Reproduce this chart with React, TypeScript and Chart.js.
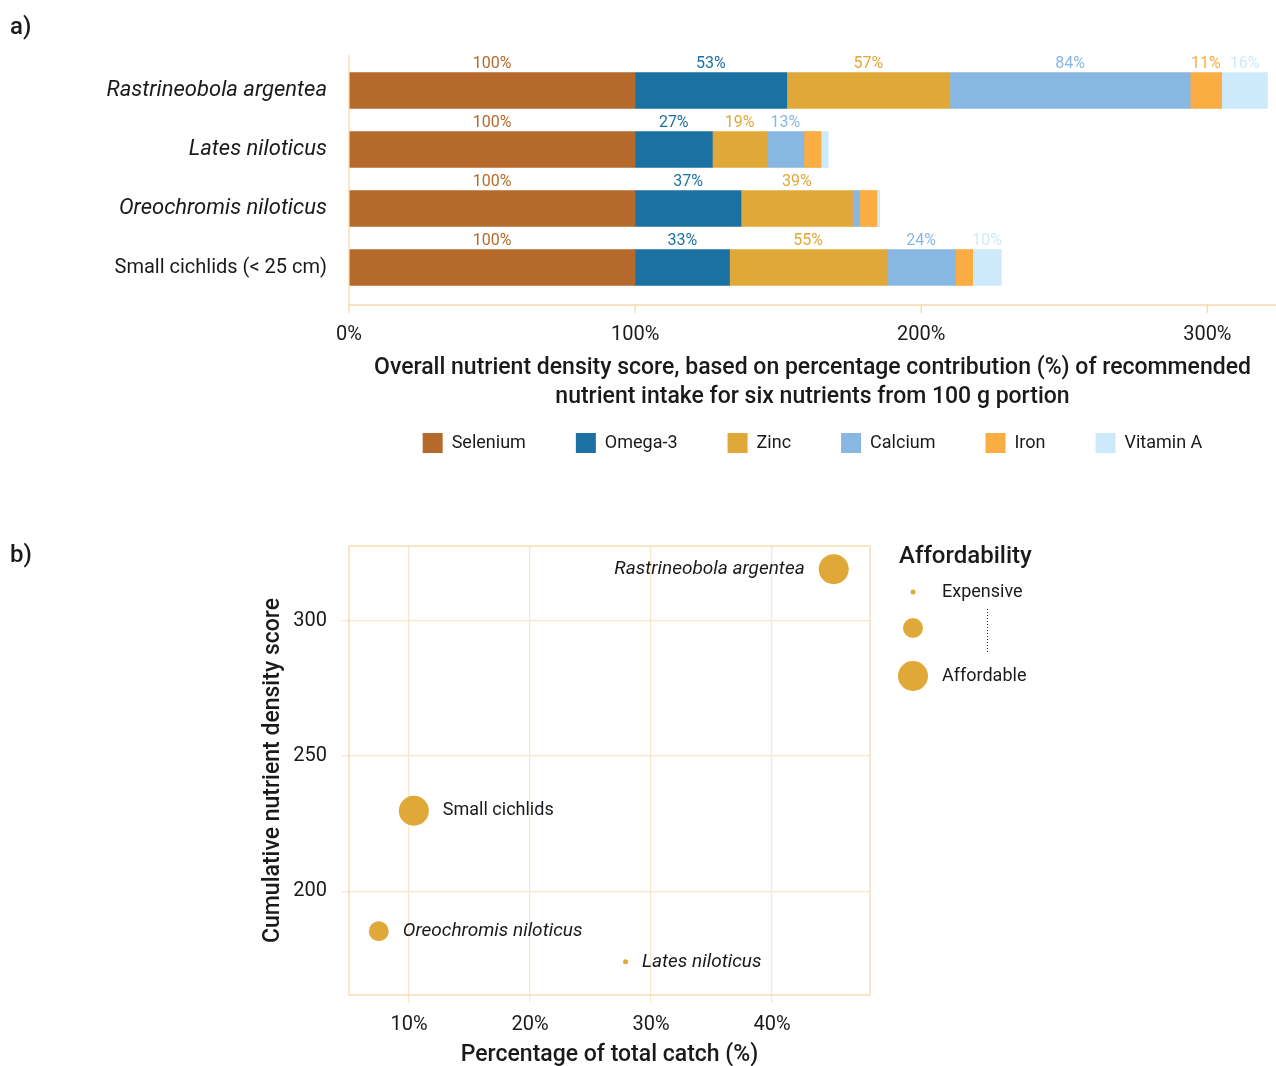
import React, { useEffect, useRef } from 'react';
import { Chart, registerables } from 'chart.js';

Chart.register(...registerables);

// ---------- Panel a data ----------
const SPECIES = ['Rastrineobola argentea', 'Lates niloticus', 'Oreochromis niloticus', 'Small cichlids (< 25 cm)'];
const SPECIES_ITALIC = [true, true, true, false];
const NUTRIENTS = ['Selenium', 'Omega-3', 'Zinc', 'Calcium', 'Iron', 'Vitamin A'];
const SELENIUM = [100, 100, 100, 100];
const OMEGA3 = [53, 27, 37, 33];
const ZINC = [57, 19, 39, 55];
const CALCIUM = [84, 13, 2.5, 24];
const IRON = [11, 6, 6, 6];
const VITAMIN_A = [16, 2.5, 1, 10];
const X_TICKS_A = [0, 100, 200, 300];
const X_TITLE_A = [
  'Overall nutrient density score, based on percentage contribution (%) of recommended',
  'nutrient intake for six nutrients from 100 g portion',
];

// ---------- Panel b data ----------
const FISH = ['Rastrineobola argentea', 'Lates niloticus', 'Oreochromis niloticus', 'Small cichlids'];
const FISH_ITALIC = [true, true, true, false];
const CATCH_PCT = [45.1, 27.9, 7.5, 10.4];
const DENSITY_SCORE = [319, 174, 185.3, 229.8];
const AFFORDABILITY = [3, 1, 2, 3]; // 1 = expensive ... 3 = affordable
const AFFORD_LEGEND = ['Expensive', '', 'Affordable'];
const X_TICKS_B = [10, 20, 30, 40];
const Y_TICKS_B = [200, 250, 300];

// ---------- Styles ----------
const FONT = 'Roboto, "Noto Sans", sans-serif';
const TEXT = '#1a1a1a';
const AXIS = '#f6d9aa';
const GRID = '#fae6c8';
const GOLD = '#e0a838';
const NUTRIENT_COLORS = ['#b5692a', '#1b71a1', '#e0a838', '#88b8e2', '#f9ad43', '#cdeafb'];
const SIZE_BY_LEVEL: Record<number, number> = { 1: 2.5, 2: 10, 3: 15 };
const LABEL_ON_LEFT = [true, false, false, false];

const axesPluginA = {
  id: 'axesA',
  afterDraw(chart: any) {
    const { ctx, chartArea } = chart;
    const x = chart.scales.x;
    const axisY = chartArea.bottom + 8;
    ctx.save();
    ctx.strokeStyle = AXIS;
    ctx.lineWidth = 1.3;
    ctx.beginPath();
    ctx.moveTo(chartArea.left, chartArea.top - 6);
    ctx.lineTo(chartArea.left, axisY);
    ctx.moveTo(chartArea.left, axisY);
    ctx.lineTo(chartArea.right, axisY);
    X_TICKS_A.forEach((v) => {
      const px = x.getPixelForValue(v);
      ctx.moveTo(px, axisY);
      ctx.lineTo(px, axisY + 8);
    });
    ctx.stroke();
    ctx.restore();
  },
};

const valueLabelsPlugin = {
  id: 'valueLabels',
  afterDatasetsDraw(chart: any) {
    const { ctx } = chart;
    ctx.save();
    ctx.font = `16px ${FONT}`;
    ctx.textAlign = 'center';
    ctx.textBaseline = 'middle';
    chart.data.datasets.forEach((ds: any, di: number) => {
      const meta = chart.getDatasetMeta(di);
      meta.data.forEach((bar: any, i: number) => {
        const v = ds.data[i];
        if (v < 10) return;
        const p = bar.getProps(['x', 'base', 'y', 'height'], true);
        ctx.fillStyle = ds.backgroundColor;
        ctx.fillText(`${Math.round(v)}%`, (p.x + p.base) / 2, p.y - p.height / 2 - 9);
      });
    });
    ctx.restore();
  },
};

const frameAndLabelsPluginB = {
  id: 'frameLabelsB',
  beforeDatasetsDraw(chart: any) {
    const { ctx, chartArea } = chart;
    ctx.save();
    ctx.strokeStyle = AXIS;
    ctx.lineWidth = 1.3;
    ctx.strokeRect(chartArea.left, chartArea.top, chartArea.right - chartArea.left, chartArea.bottom - chartArea.top);
    ctx.restore();
  },
  afterDatasetsDraw(chart: any) {
    const { ctx } = chart;
    const meta = chart.getDatasetMeta(0);
    ctx.save();
    ctx.fillStyle = TEXT;
    ctx.textBaseline = 'middle';
    meta.data.forEach((pt: any, i: number) => {
      const r = SIZE_BY_LEVEL[AFFORDABILITY[i]];
      ctx.font = FISH_ITALIC[i] ? `italic 19px ${FONT}` : `18px ${FONT}`;
      if (LABEL_ON_LEFT[i]) {
        ctx.textAlign = 'right';
        ctx.fillText(FISH[i], pt.x - r - 14, pt.y);
      } else {
        ctx.textAlign = 'left';
        ctx.fillText(FISH[i], pt.x + r + 14, pt.y);
      }
    });
    ctx.restore();
  },
};

const affordLegendPlugin = {
  id: 'affordLegend',
  afterDraw(chart: any) {
    const { ctx, chartArea } = chart;
    const left = chartArea.right + 29;
    const cx = left + 14;
    const rows = [chartArea.top + 46, chartArea.top + 82, chartArea.top + 130];
    ctx.save();
    ctx.fillStyle = TEXT;
    ctx.textBaseline = 'middle';
    ctx.textAlign = 'left';
    ctx.font = `500 24px ${FONT}`;
    ctx.fillText('Affordability', left, chartArea.top + 11);
    ctx.font = `18px ${FONT}`;
    [1, 2, 3].forEach((lvl, i) => {
      ctx.fillStyle = GOLD;
      ctx.beginPath();
      ctx.arc(cx, rows[i], SIZE_BY_LEVEL[lvl], 0, Math.PI * 2);
      ctx.fill();
      if (AFFORD_LEGEND[i]) {
        ctx.fillStyle = TEXT;
        ctx.fillText(AFFORD_LEGEND[i], left + 43, rows[i]);
      }
    });
    ctx.strokeStyle = '#222';
    ctx.lineWidth = 1;
    ctx.setLineDash([1, 2]);
    ctx.beginPath();
    ctx.moveTo(left + 88.5, rows[0] + 17);
    ctx.lineTo(left + 88.5, rows[2] - 22);
    ctx.stroke();
    ctx.restore();
  },
};

function PanelA() {
  const ref = useRef<HTMLCanvasElement>(null);
  useEffect(() => {
    const series = [SELENIUM, OMEGA3, ZINC, CALCIUM, IRON, VITAMIN_A];
    const chart = new Chart(ref.current as HTMLCanvasElement, {
      type: 'bar',
      data: {
        labels: SPECIES,
        datasets: NUTRIENTS.map((n, i) => ({
          label: n,
          data: series[i],
          backgroundColor: NUTRIENT_COLORS[i],
          borderWidth: 0,
          barThickness: 36,
        })),
      },
      options: {
        indexAxis: 'y',
        responsive: false,
        animation: false,
        layout: { padding: { top: 61, left: 0, right: 0, bottom: 7 } },
        scales: {
          x: {
            type: 'linear',
            stacked: true,
            min: 0,
            max: 324,
            afterBuildTicks: (s: any) => {
              s.ticks = X_TICKS_A.map((v) => ({ value: v }));
            },
            afterFit: (s: any) => {
              s.height = 86;
            },
            grid: { display: false, drawTicks: false },
            border: { display: false },
            ticks: {
              padding: 26,
              color: TEXT,
              font: { family: FONT, size: 20 },
              callback: (v: any) => `${v}%`,
            },
            title: {
              display: true,
              text: X_TITLE_A,
              color: TEXT,
              font: { family: FONT, size: 23, weight: '500', lineHeight: 1.26 },
              padding: { top: 0, bottom: -28.5 },
            },
          },
          y: {
            type: 'category',
            stacked: true,
            offset: true,
            afterFit: (s: any) => {
              s.width = 349;
            },
            grid: { display: false, drawTicks: false },
            border: { display: false },
            ticks: {
              padding: 22,
              color: TEXT,
              font: (c: any) =>
                SPECIES_ITALIC[c.index]
                  ? { family: FONT, size: 22, style: 'italic' }
                  : { family: FONT, size: 20, style: 'normal' },
            },
          },
        },
        plugins: {
          legend: {
            position: 'bottom',
            fullSize: false,
            labels: {
              boxWidth: 20,
              boxHeight: 20,
              padding: 50,
              color: TEXT,
              font: { family: FONT, size: 18 },
            },
          },
          tooltip: { enabled: false },
        },
      } as any,
      plugins: [axesPluginA, valueLabelsPlugin],
    });
    return () => chart.destroy();
  }, []);
  return <canvas ref={ref} width={1276} height={470} style={{ position: 'absolute', left: 0, top: 0, display: 'block' }} />;
}

function PanelB() {
  const ref = useRef<HTMLCanvasElement>(null);
  useEffect(() => {
    const chart = new Chart(ref.current as HTMLCanvasElement, {
      type: 'bubble',
      data: {
        datasets: [
          {
            label: 'Affordability',
            data: FISH.map((_, i) => ({ x: CATCH_PCT[i], y: DENSITY_SCORE[i], r: SIZE_BY_LEVEL[AFFORDABILITY[i]] })),
            backgroundColor: GOLD,
            borderWidth: 0,
          },
        ],
      },
      options: {
        responsive: false,
        animation: false,
        layout: { padding: { top: 24, right: 406, left: 0, bottom: 0 } },
        scales: {
          x: {
            type: 'linear',
            min: 5.04,
            max: 48.1,
            afterBuildTicks: (s: any) => {
              s.ticks = X_TICKS_B.map((v) => ({ value: v }));
            },
            afterFit: (s: any) => {
              s.height = 71;
            },
            grid: { color: GRID, lineWidth: 1.3, tickLength: 8, drawTicks: true },
            border: { display: false },
            ticks: {
              padding: 10,
              color: TEXT,
              font: { family: FONT, size: 20 },
              callback: (v: any) => `${v}%`,
            },
            title: {
              display: true,
              text: 'Percentage of total catch (%)',
              color: TEXT,
              font: { family: FONT, size: 23, weight: '500' },
              padding: { top: 0, bottom: -3 },
            },
          },
          y: {
            type: 'linear',
            min: 161.76,
            max: 327.57,
            afterBuildTicks: (s: any) => {
              s.ticks = Y_TICKS_B.map((v) => ({ value: v }));
            },
            afterFit: (s: any) => {
              s.width = 349;
            },
            grid: { color: GRID, lineWidth: 1.3, tickLength: 8, drawTicks: true },
            border: { display: false },
            ticks: {
              padding: 14,
              color: TEXT,
              font: { family: FONT, size: 20 },
            },
            title: {
              display: true,
              text: 'Cumulative nutrient density score',
              color: TEXT,
              font: { family: FONT, size: 23, weight: '500' },
              padding: { top: 259, bottom: 0 },
            },
          },
        },
        plugins: {
          legend: { display: false },
          tooltip: { enabled: false },
        },
      } as any,
      plugins: [frameAndLabelsPluginB, affordLegendPlugin],
    });
    return () => chart.destroy();
  }, []);
  return <canvas ref={ref} width={1276} height={546} style={{ position: 'absolute', left: 0, top: 520, display: 'block' }} />;
}

export default function App() {
  const tag: React.CSSProperties = {
    position: 'absolute',
    left: 10,
    fontFamily: FONT,
    fontSize: 24,
    fontWeight: 500,
    color: TEXT,
    lineHeight: '28px',
  };
  return (
    <div style={{ position: 'absolute', left: 0, top: 0, width: 1276, height: 1066, background: '#fff', overflow: 'hidden' }}>
      <PanelA />
      <PanelB />
      <div style={{ ...tag, top: 12 }}>a)</div>
      <div style={{ ...tag, top: 540 }}>b)</div>
    </div>
  );
}
